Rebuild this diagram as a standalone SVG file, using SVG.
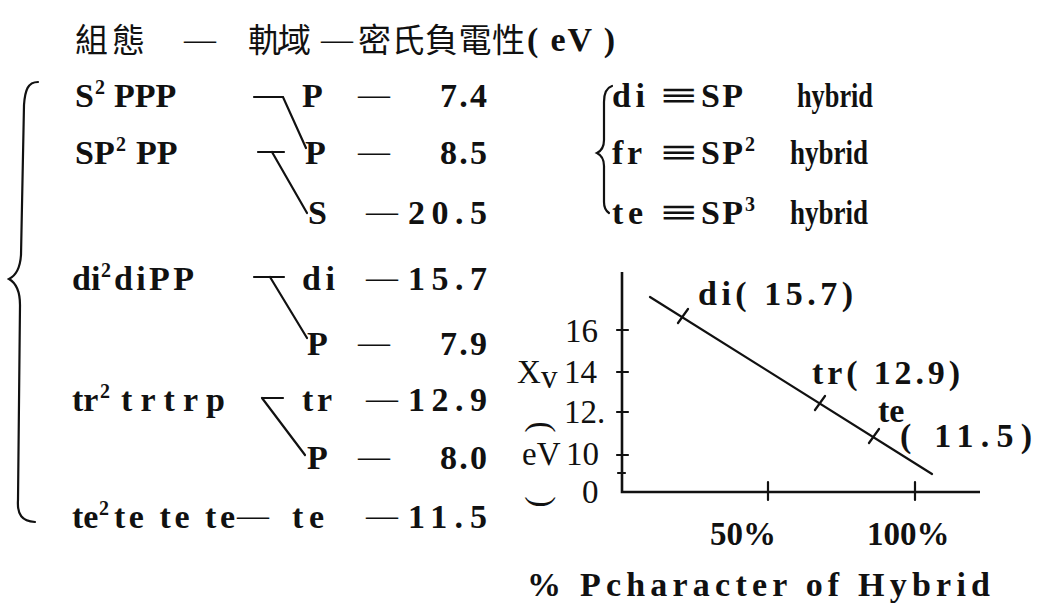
<svg xmlns="http://www.w3.org/2000/svg" width="1040" height="605" viewBox="0 0 1040 605">
<style>
.t{font-family:"Liberation Serif","DejaVu Serif",serif;font-weight:bold;font-size:34px;fill:#111}
.d{font-family:"Liberation Serif","DejaVu Serif",serif;font-size:32px;fill:#111}
.cj{font-family:"Noto Sans CJK TC","Noto Sans CJK SC",sans-serif;font-size:33px;fill:#111}
.sup{font-family:"Liberation Serif","DejaVu Serif",serif;font-weight:bold;font-size:20px;fill:#111}
.ln{stroke:#111;stroke-width:2.2;fill:none;stroke-linecap:round}
.ax{stroke:#111;stroke-width:2.6;fill:none}
.ax2{font-family:"Liberation Serif","DejaVu Serif",serif;font-size:33px;fill:#111}
</style>
<rect width="1040" height="605" fill="#fff"/>

<g id="title">
<text class="cj" x="75" y="52" textLength="70" lengthAdjust="spacing">組態</text>
<text class="d" x="184" y="50">—</text>
<text class="cj" x="248" y="52" textLength="63" lengthAdjust="spacing">軌域</text>
<text class="d" x="321" y="50">—</text>
<text class="cj" x="358" y="52" textLength="167" lengthAdjust="spacing">密氏負電性</text>
<text class="t" x="527" y="51" textLength="88" lengthAdjust="spacing">( eV )</text>
</g>

<g id="brace-left">
<path class="ln" d="M38,82 C28,82 25,90 24,105 L21,255 C20,270 15,276 9,279 C16,283 20,291 20,305 L18,500 C17,515 22,521 35,522"/>
</g>

<g id="row1">
<text class="t" x="75" y="107">S</text>
<text class="sup" x="95" y="94">2</text>
<text class="t" x="114" y="107">PPP</text>
<text class="t" x="302" y="107">P</text>
<text class="d" x="358" y="105">—</text>
<text class="t" x="440" y="107" textLength="47" lengthAdjust="spacing">7.4</text>
</g>
<g id="row2">
<text class="t" x="75" y="164">SP</text>
<text class="sup" x="116" y="151">2</text>
<text class="t" x="136" y="164">PP</text>
<text class="t" x="305" y="164">P</text>
<text class="d" x="358" y="162">—</text>
<text class="t" x="440" y="164" textLength="47" lengthAdjust="spacing">8.5</text>
</g>
<g id="row3">
<text class="t" x="308" y="224">S</text>
<text class="d" x="366" y="222">—</text>
<text class="t" x="408" y="224" textLength="79" lengthAdjust="spacing">20.5</text>
</g>
<g id="row4">
<text class="t" x="72" y="290">di</text>
<text class="sup" x="101" y="277">2</text>
<text class="t" x="114" y="290" textLength="80" lengthAdjust="spacing">diPP</text>
<text class="t" x="302" y="290" textLength="33" lengthAdjust="spacing">di</text>
<text class="d" x="366" y="288">—</text>
<text class="t" x="408" y="290" textLength="79" lengthAdjust="spacing">15.7</text>
</g>
<g id="row5">
<text class="t" x="307" y="355">P</text>
<text class="d" x="358" y="353">—</text>
<text class="t" x="440" y="355" textLength="47" lengthAdjust="spacing">7.9</text>
</g>
<g id="row6">
<text class="t" x="72" y="411">tr</text>
<text class="sup" x="100" y="398">2</text>
<text class="t" x="121" y="411" textLength="104" lengthAdjust="spacing">trtrp</text>
<text class="t" x="302" y="411" textLength="30" lengthAdjust="spacing">tr</text>
<text class="d" x="366" y="409">—</text>
<text class="t" x="408" y="411" textLength="79" lengthAdjust="spacing">12.9</text>
</g>
<g id="row7">
<text class="t" x="307" y="469">P</text>
<text class="d" x="358" y="467">—</text>
<text class="t" x="440" y="469" textLength="47" lengthAdjust="spacing">8.0</text>
</g>
<g id="row8">
<text class="t" x="72" y="528">te</text>
<text class="sup" x="99" y="515">2</text>
<text class="t" x="114" y="528" textLength="121" lengthAdjust="spacing">te te te</text>
<text class="d" x="237" y="526">—</text>
<text class="t" x="292" y="528" textLength="32" lengthAdjust="spacing">te</text>
<text class="d" x="366" y="526">—</text>
<text class="t" x="408" y="528" textLength="79" lengthAdjust="spacing">11.5</text>
</g>

<g id="connectors">
<path class="ln" d="M254,97 H283 L306,148"/>
<path class="ln" d="M258,152 H284 M272,152 L307,213"/>
<path class="ln" d="M254,277 H284 M270,277 L307,338"/>
<path class="ln" d="M262,398 H283 M262,398 L305,455"/>
</g>

<g id="hybrid-key">
<path class="ln" d="M612,86 C606,88 604,94 604,102 L604,140 C604,147 601,151 597,153 C601,155 604,159 604,166 L604,202 C604,208 606,211 609,213"/>
<text class="t" x="612" y="107" textLength="33" lengthAdjust="spacing">di</text>
<text class="t" x="660" y="107" textLength="37" lengthAdjust="spacingAndGlyphs">≡</text>
<text class="t" x="701" y="107" textLength="42" lengthAdjust="spacing">SP</text>
<text class="t" x="797" y="107" textLength="76" lengthAdjust="spacingAndGlyphs">hybrid</text>
<text class="t" x="612" y="164" textLength="30" lengthAdjust="spacing">fr</text>
<text class="t" x="660" y="164" textLength="37" lengthAdjust="spacingAndGlyphs">≡</text>
<text class="t" x="701" y="164" textLength="42" lengthAdjust="spacing">SP</text>
<text class="sup" x="745" y="151">2</text>
<text class="t" x="790" y="164" textLength="78" lengthAdjust="spacingAndGlyphs">hybrid</text>
<text class="t" x="612" y="224" textLength="31" lengthAdjust="spacing">te</text>
<text class="t" x="660" y="224" textLength="37" lengthAdjust="spacingAndGlyphs">≡</text>
<text class="t" x="701" y="224" textLength="42" lengthAdjust="spacing">SP</text>
<text class="sup" x="745" y="211">3</text>
<text class="t" x="790" y="224" textLength="78" lengthAdjust="spacingAndGlyphs">hybrid</text>
</g>

<g id="graph">
<path class="ax" d="M622,272 V492 H980"/>
<path class="ln" d="M617,330 H628 M617,372 H628 M617,412 H628 M617,455 H628 M618,473 H625 M768,482 V500 M915,482 V500"/>
<path class="ln" d="M650,297 L932,474"/>
<path class="ln" d="M678,323 L688,309 M815,410 L825,396 M869,443 L879,429"/>
<text class="ax2" x="565" y="342">16</text>
<text class="ax2" x="517" y="383">X</text>
<text class="ax2" x="541" y="388" font-size="19">v</text>
<text class="ax2" x="564" y="383">14</text>
<text class="ax2" x="564" y="423">12.</text>
<text class="ax2" x="522" y="465">eV</text>
<text class="ax2" x="566" y="465">10</text>
<text class="ax2" x="582" y="503">0</text>
<text class="ax2" x="539" y="434" text-anchor="middle" transform="rotate(90 539 427)">(</text>
<text class="ax2" x="539" y="509" text-anchor="middle" transform="rotate(90 539 502)">)</text>
<text class="t" x="698" y="305" textLength="155" lengthAdjust="spacing">di( 15.7)</text>
<text class="t" x="812" y="384" textLength="148" lengthAdjust="spacing">tr( 12.9)</text>
<text class="t" x="878" y="422">te</text>
<text class="t" x="900" y="447" textLength="132" lengthAdjust="spacing">( 11.5)</text>
<text class="ax2" x="710" y="545" font-size="36" font-weight="bold">50%</text>
<text class="ax2" x="867" y="545" font-size="36" font-weight="bold">100%</text>
<text class="t" x="527" y="596" textLength="463" lengthAdjust="spacing">% Pcharacter of Hybrid</text>
</g>
</svg>
